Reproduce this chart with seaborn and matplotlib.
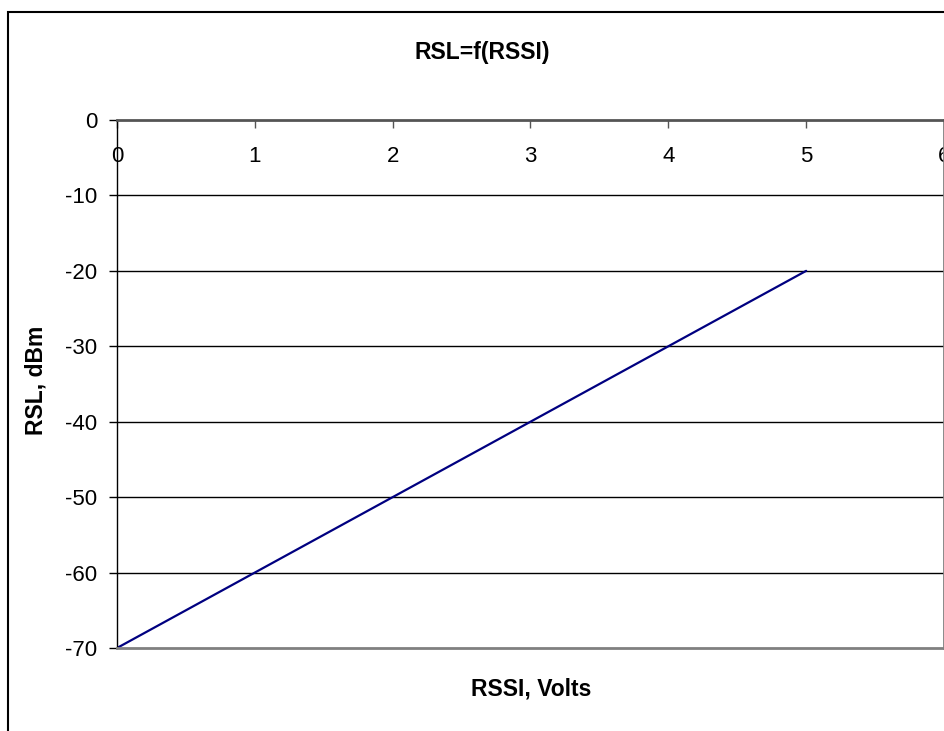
import pandas as pd
import matplotlib.pyplot as plt
import matplotlib.patches as mpatches
import seaborn as sns

# RSSI voltage vs received signal level
rssi_volts = [0, 1, 2, 3, 4, 5]
rsl_dbm = [-70, -60, -50, -40, -30, -20]
x_ticks = [0, 1, 2, 3, 4, 5, 6]
y_ticks = [0, -10, -20, -30, -40, -50, -60, -70]

df = pd.DataFrame({'RSSI': rssi_volts, 'RSL': rsl_dbm})

sns.set_style('white')
plt.rcParams['font.family'] = ['Liberation Sans', 'DejaVu Sans']
plt.rcParams['axes.unicode_minus'] = False
plt.rcParams['text.color'] = 'black'
plt.rcParams['xtick.labelcolor'] = 'black'
plt.rcParams['ytick.labelcolor'] = 'black'

W, H = 945, 731
fig = plt.figure(figsize=(W / 100, H / 100), dpi=100)
ax = fig.add_axes([117 / W, 1 - 648 / H, (944 - 117) / W, (648 - 120) / H])

sns.lineplot(data=df, x='RSSI', y='RSL', ax=ax, color='#000080', linewidth=1.6)

ax.set_xlim(0, 6)
ax.set_ylim(-70, 0)
ax.set_xticks(x_ticks)
ax.set_yticks(y_ticks)
ax.set_xlabel('')
ax.set_ylabel('')

# horizontal gridlines only
for v in y_ticks[1:-1]:
    ax.axhline(v, color='black', linewidth=1, zorder=0)

# x axis sits at y=0 (top), labels drawn below it
ax.tick_params(axis='x', bottom=False, top=True, labelbottom=False, labeltop=True,
               direction='in', length=6, width=1, color='#555555',
               labelsize=16, pad=-34)
ax.tick_params(axis='y', left=True, direction='out', length=6, width=1,
               color='black', labelsize=16, pad=8)

ax.spines['left'].set_color('black')
ax.spines['left'].set_linewidth(1)
ax.spines['top'].set_color('#555555')
ax.spines['top'].set_linewidth(2)
for s in ('right', 'bottom'):
    ax.spines[s].set_color('#808080')
    ax.spines[s].set_linewidth(2)

fig.text(482 / W, 1 - 53 / H, 'RSL=f(RSSI)', ha='center', va='center',
         fontsize=16.5, fontweight='bold')
fig.text(531 / W, 1 - 689 / H, 'RSSI, Volts', ha='center', va='center',
         fontsize=16.5, fontweight='bold')
fig.text(36 / W, 1 - 380 / H, 'RSL, dBm', ha='center', va='center',
         fontsize=16.5, fontweight='bold', rotation=90)

# outer chart border
fig.patches.append(mpatches.Rectangle((8 / W, -0.1), 1.1, 1.1 - 12 / H,
                                      transform=fig.transFigure, fill=False,
                                      edgecolor='black', linewidth=1.5))

plt.savefig('out.png', dpi=100)
plt.close()
